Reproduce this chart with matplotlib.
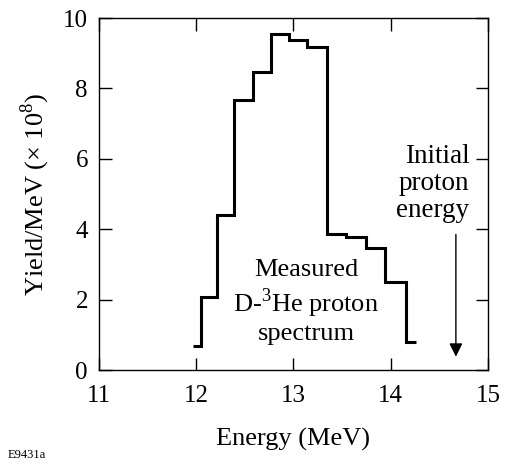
import matplotlib
matplotlib.use("Agg")
import matplotlib.pyplot as plt

# step-spectrum
bin_edges = [11.97, 12.05, 12.21, 12.39, 12.58, 12.77, 12.95, 13.14,
             13.34, 13.54, 13.75, 13.94, 14.16, 14.26]
yield_per_mev = [0.68, 2.08, 4.40, 7.67, 8.47, 9.56, 9.37, 9.18,
                 3.86, 3.79, 3.46, 2.51, 0.80]

x_ticks = [11, 12, 13, 14, 15]
y_ticks = [0, 2, 4, 6, 8, 10]

initial_energy = 14.67

plt.rcParams["font.family"] = ["Liberation Serif", "DejaVu Serif"]
plt.rcParams["mathtext.fontset"] = "custom"
plt.rcParams["mathtext.rm"] = "Liberation Serif"

fig = plt.figure(figsize=(5.09, 4.68), dpi=100)
ax = fig.add_axes([0.1945, 0.2094, 0.7642, 0.7521])

ax.stairs(yield_per_mev, bin_edges, baseline=None, color="black", linewidth=2.2)

ax.set_xlim(11, 15)
ax.set_ylim(0, 10)
ax.set_xticks(x_ticks)
ax.set_yticks(y_ticks)
ax.tick_params(direction="in", length=9, width=1, top=True, right=True,
               labelsize=18)
ax.tick_params(axis="x", pad=11)
ax.tick_params(axis="y", pad=8)
for s in ax.spines.values():
    s.set_linewidth(1)

ax.set_xlabel("Energy (MeV)", fontsize=19, labelpad=15)
ax.set_ylabel("Yield/MeV (× 10$^\\mathrm{8}$)", fontsize=19, labelpad=8)

ax.text(13.13, 1.93, "Measured\nD-$^\\mathrm{3}$He proton\nspectrum", ha="center",
        va="center", fontsize=19, linespacing=1.2)

ax.text(14.81, 5.3, "Initial\nproton\nenergy", ha="right", va="center",
        fontsize=19.5, linespacing=1.1)
ax.annotate("", xy=(initial_energy, 0.3), xytext=(initial_energy, 3.93),
            arrowprops=dict(arrowstyle="-|>", color="black", lw=1,
                            mutation_scale=20))

fig.text(8 / 509, 1 - 455 / 468, "E9431a", fontsize=9, va="center")

fig.savefig("out.png", dpi=100)
